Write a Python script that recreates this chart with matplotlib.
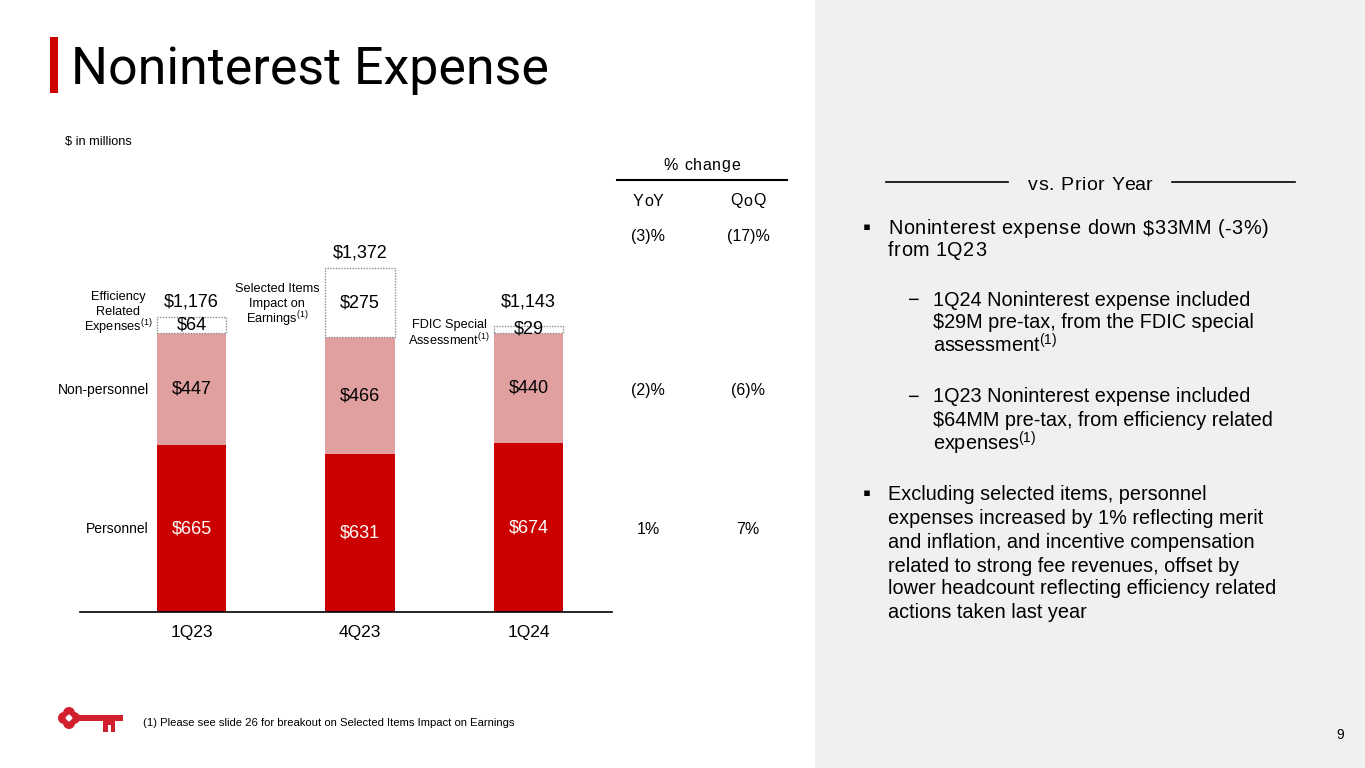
import matplotlib
matplotlib.use("Agg")
import matplotlib.pyplot as plt
from matplotlib.patches import Rectangle, Circle
from matplotlib.font_manager import FontProperties

# ---------------- data ----------------
quarters = ["1Q23", "4Q23", "1Q24"]
personnel = [665, 631, 674]
non_personnel = [447, 466, 440]
selected_items = [64, 275, 29]
totals = [1176, 1372, 1143]
yoy_change = ["(3)%", "(2)%", "1%"]     # total, non-personnel, personnel
qoq_change = ["(17)%", "(6)%", "7%"]

plt.rcParams['font.family'] = ['Liberation Sans', 'DejaVu Sans']
plt.rcParams['mathtext.fontset'] = 'custom'
plt.rcParams['mathtext.rm'] = 'Liberation Sans'
plt.rcParams['mathtext.it'] = 'Liberation Sans'

W, H = 1365, 768
fig = plt.figure(figsize=(W / 100, H / 100), dpi=100)
fig.patch.set_facecolor('white')
renderer = fig.canvas.get_renderer()

# overlay in pixel coordinates (for slide decorations)
ov = fig.add_axes([0, 0, 1, 1], zorder=0)
ov.set_xlim(0, W)
ov.set_ylim(H, 0)
ov.axis('off')


def _w(s, fs):
    prop = FontProperties(family='Liberation Sans', size=fs)
    w, h, d = renderer.get_text_width_height_descent(s, prop, ismath=False)
    return w


def tracked(x, y, s, fs, track, ha='left', **kw):
    """text with extra letter spacing (px)"""
    ref = _w("l", fs)
    total = _w(s + "l", fs) - ref + (len(s) - 1) * track
    if ha == 'center':
        x = x - total / 2
    for i, ch in enumerate(s):
        if ch == ' ':
            continue
        xi = x + (_w(s[:i] + "l", fs) - ref if i else 0) + i * track
        ov.text(xi, y, ch, ha='left', va='center', fontsize=fs, **kw)


def lines_at(xc, ys, lines, fs):
    for t, yy in zip(lines, ys):
        ov.text(xc, yy, t, ha='center', va='center', fontsize=fs)


RED = '#CC0000'
PINK = '#E0A0A0'
KEYRED = '#D2202F'

# grey side panel
ov.add_patch(Rectangle((815, 0), W - 815, H, facecolor='#F0F0F0', edgecolor='none'))

# title
ov.add_patch(Rectangle((50, 37), 8, 56, facecolor=RED, edgecolor='none'))
ov.text(71, 84, "Noninterest Expense", fontsize=37.4, family=['Roboto', 'DejaVu Sans'],
        va='baseline', ha='left', color='black')
ov.text(65, 142, "$ in millions", fontsize=9.2, va='center', ha='left')

# ---------------- bar chart ----------------
base_px, scale = 612, 0.2505
ymax = 1600
ax = fig.add_axes([80 / W, (H - base_px) / H, (612 - 80) / W, ymax * scale / H], zorder=2)
ax.patch.set_alpha(0)
x = list(range(len(quarters)))
bw = 0.41
ax.bar(x, personnel, bw, color=RED, zorder=2)
ax.bar(x, non_personnel, bw, bottom=personnel, color=PINK, zorder=2)
bottoms2 = [p + n for p, n in zip(personnel, non_personnel)]
ax.bar(x, selected_items, bw, bottom=bottoms2, facecolor='white', edgecolor='#8C8C8C',
       linestyle=(0, (1, 1)), linewidth=1.0, zorder=2)
ax.set_xlim(-0.662, 2.496)
ax.set_ylim(0, ymax)
for s in ['top', 'right', 'left']:
    ax.spines[s].set_visible(False)
ax.spines['bottom'].set_linewidth(1.2)
ax.set_yticks([])
ax.set_xticks(x)
ax.set_xticklabels(quarters, fontsize=12.5)
ax.tick_params(axis='x', length=0, pad=9)

for i in x:
    ax.text(i, personnel[i] / 2, f"${personnel[i]:,}", ha='center', va='center',
            color='white', fontsize=13)
    ax.text(i, personnel[i] + non_personnel[i] / 2, f"${non_personnel[i]:,}", ha='center',
            va='center', color='black', fontsize=13)
    ax.text(i, bottoms2[i] + selected_items[i] / 2, f"${selected_items[i]:,}", ha='center',
            va='center', color='black', fontsize=13)
tot_offsets = [11, 11, 17]
for i in x:
    ax.annotate(f"${totals[i]:,}", (i, totals[i]), xytext=(0, tot_offsets[i]),
                textcoords='offset points', ha='center', va='center', fontsize=13)

# side labels
ov.text(149, 390, "Non-personnel", ha='right', va='center', fontsize=10)
ov.text(149, 529, "Personnel", ha='right', va='center', fontsize=10)
lines_at(118, [297, 312, 327], ["Efficiency", "Related", "Expenses$^{(1)}$"], 9.2)
lines_at(277, [289, 304, 319], ["Selected Items", "Impact on", "Earnings$^{(1)}$"], 9.2)
lines_at(449, [325, 340], ["FDIC Special", "Assessment$^{(1)}$"], 9.2)

# % change table
tracked(702, 165, "% change", 11.5, 0.8, ha='center')
ov.plot([617, 787], [180, 180], color='black', lw=1.5)
tracked(648, 201, "YoY", 11.5, 1.2, ha='center')
tracked(748, 201, "QoQ", 11.5, 0.8, ha='center')
row_y = [236, 390, 529]
for ry, a, b in zip(row_y, yoy_change, qoq_change):
    ov.text(648, ry, a, ha='center', va='center', fontsize=11.5)
    ov.text(748, ry, b, ha='center', va='center', fontsize=11.5)

# ---------------- right panel ----------------
ov.plot([886, 1008], [182, 182], color='black', lw=1.2)
ov.plot([1172, 1295], [182, 182], color='black', lw=1.2)
tracked(1090, 185, "vs. Prior Year", 14, 0.6, ha='center')

fs = 14.3
ov.text(867, 229, "\u25aa", ha='center', va='center', fontsize=16)
tracked(888, 229, "Noninterest expense down $33MM (-3%)", fs, 0.5)
tracked(888, 251, "from 1Q23", fs, 0.5)

sub1 = ["1Q24 Noninterest expense included", "$29M pre-tax, from the FDIC special",
        "assessment$^{(1)}$"]
sub2 = ["1Q23 Noninterest expense included", "$64MM pre-tax, from efficiency related",
        "expenses$^{(1)}$"]
for lines, ys in ((sub1, [300, 322, 345]), (sub2, [397, 420, 443])):
    ov.text(913, ys[0], "\u2212", ha='center', va='center', fontsize=fs)
    for t, yy in zip(lines, ys):
        if "$^" not in t:
            t = t.replace("$", r"\$")
        ov.text(933, yy, t, ha='left', va='center', fontsize=fs)

bul2 = ["Excluding selected items, personnel",
        "expenses increased by 1% reflecting merit",
        "and inflation, and incentive compensation",
        "related to strong fee revenues, offset by",
        "lower headcount reflecting efficiency related",
        "actions taken last year"]
ys2 = [495, 518, 542, 566, 589, 613]
ov.text(867, 495, "\u25aa", ha='center', va='center', fontsize=16)
for t, yy in zip(bul2, ys2):
    ov.text(888, yy, t, ha='left', va='center', fontsize=fs)

# footer
ov.text(143, 723, "(1) Please see slide 26 for breakout on Selected Items Impact on Earnings",
        ha='left', va='center', fontsize=8.1)
ov.text(1340, 735, "9", ha='center', va='center', fontsize=10)

# key logo
for dx, dy in ((-5, 0), (5, 0), (0, -5), (0, 5)):
    ov.add_patch(Circle((69 + dx, 718 + dy), 6, facecolor=KEYRED, edgecolor='none'))
ov.add_patch(Circle((69, 718), 6, facecolor=KEYRED, edgecolor='none'))
for dx, dy in ((-1.6, 0), (1.6, 0), (0, -1.6), (0, 1.6)):
    ov.add_patch(Circle((69 + dx, 718 + dy), 1.8, facecolor='white', edgecolor='none'))
ov.add_patch(Rectangle((78, 714.5), 45, 6.5, facecolor=KEYRED, edgecolor='none'))
ov.add_patch(Rectangle((103, 720), 12, 12, facecolor=KEYRED, edgecolor='none'))
ov.add_patch(Rectangle((108, 725), 2.5, 7, facecolor='white', edgecolor='none'))

fig.savefig("out.png", dpi=100)
